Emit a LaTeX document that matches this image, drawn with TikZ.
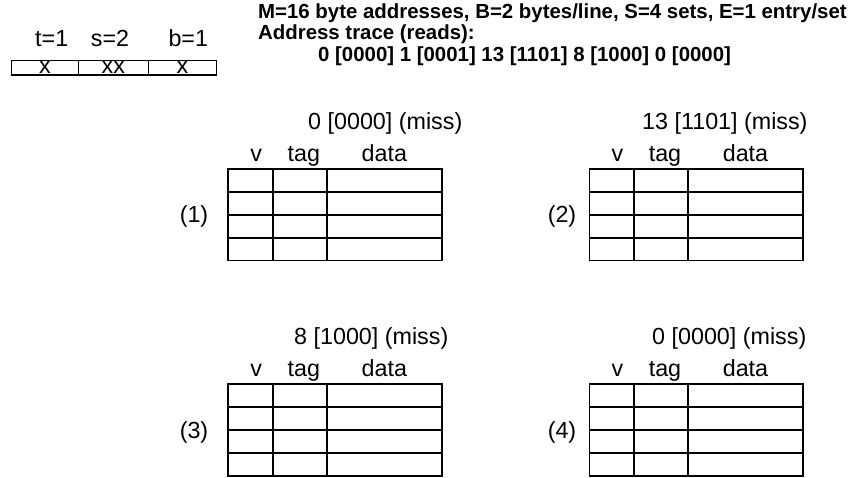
\documentclass[tikz,border=0pt]{standalone}
\usepackage{fontspec}
\setmainfont{Liberation Sans}
\begin{document}
\begin{tikzpicture}[x=1pt,y=-1pt,
  txt/.style={inner sep=0pt, font=\fontsize{23.3}{27}\selectfont},
  hdr/.style={inner sep=0pt, anchor=base west, font=\fontsize{20.4}{24}\selectfont\bfseries},
  gridline/.style={line width=1.7pt, line cap=rect},
  addrline/.style={line width=1.1pt},
  cachetable/.pic={
    % 4 sets, columns v | tag | data
    \draw[gridline] (0,0) rectangle (213.5,91.6);
    \foreach \yy in {22.9,45.8,68.7} \draw[gridline] (0,\yy) -- (213.5,\yy);
    \foreach \xx in {44.5,98.5} \draw[gridline] (\xx,0) -- (\xx,91.6);
    \node[txt, anchor=base] (-v) at (28,-8) {v};
    \node[txt, anchor=base] (-tag) at (75.5,-8) {tag};
    \node[txt, anchor=base] (-data) at (156,-8) {data};
  }]
\useasboundingbox (0,0) rectangle (848,477);

% address bit fields
\draw[addrline] (11.7,60.7) rectangle (216.7,75);
\draw[addrline] (78.3,60.7) -- (78.3,75);
\draw[addrline] (148.3,60.7) -- (148.3,75);
\node[txt, anchor=base] (tf) at (51.7,46.7) {t=1};
\node[txt, anchor=base] (sf) at (110,46.7) {s=2};
\node[txt, anchor=base] (bf) at (188.3,46.7) {b=1};
\node[txt] (tx) at (45,67.3) {x};
\node[txt] (sx) at (113.3,67.3) {xx};
\node[txt] (bx) at (182.5,67.3) {x};

% cache parameters and trace
\node[hdr] (params) at (258,18) {M=16 byte addresses, B=2 bytes/line, S=4 sets, E=1 entry/set};
\node[hdr] (trace) at (258,39.5) {Address trace (reads):};
\node[hdr] (addrs) at (318,61) {0 [0000] 1 [0001] 13 [1101] 8 [1000] 0 [0000]};

% cache states
\pic (c1) at (228.3,169) {cachetable};
\pic (c2) at (589.5,169) {cachetable};
\pic (c3) at (228.3,384.3) {cachetable};
\pic (c4) at (589.5,384.3) {cachetable};

\node[txt, anchor=base west] (a1) at (308,129) {0 [0000] (miss)};
\node[txt, anchor=base west] (a2) at (642,129) {13 [1101] (miss)};
\node[txt, anchor=base west] (a3) at (294,344) {8 [1000] (miss)};
\node[txt, anchor=base west] (a4) at (652,344) {0 [0000] (miss)};

\node[txt, anchor=base] (n1) at (194,222) {(1)};
\node[txt, anchor=base] (n2) at (562,222) {(2)};
\node[txt, anchor=base] (n3) at (194,438) {(3)};
\node[txt, anchor=base] (n4) at (562,438) {(4)};
\end{tikzpicture}
\end{document}
